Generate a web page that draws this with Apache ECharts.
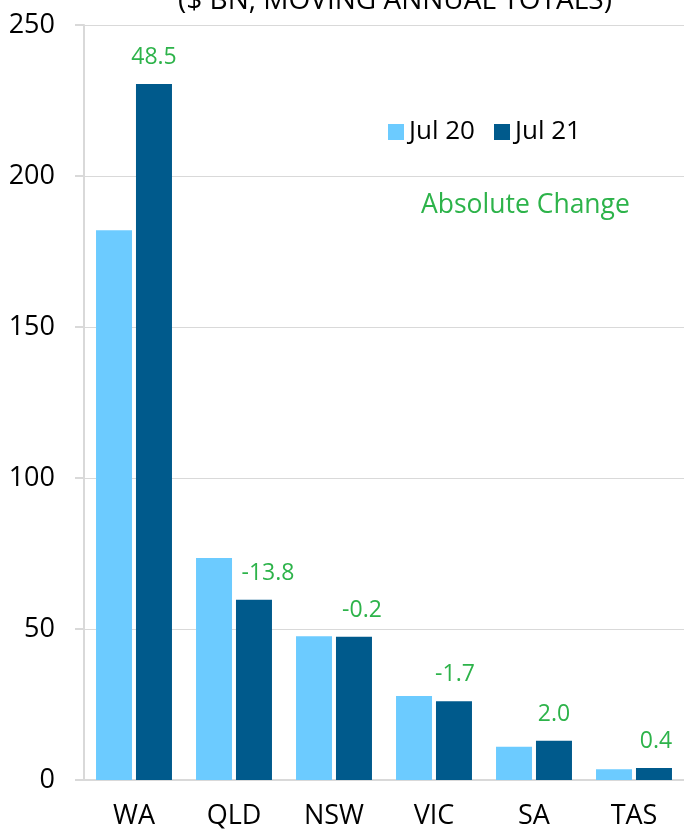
<!DOCTYPE html>
<html>
<head>
<meta charset="utf-8">
<script src="https://cdn.jsdelivr.net/npm/echarts@6/dist/echarts.min.js"></script>
<style>
html,body{margin:0;padding:0;background:#fff;}
#chart{width:684px;height:830px;}
</style>
</head>
<body>
<div id="chart"></div>
<script>
const categories = ['WA', 'QLD', 'NSW', 'VIC', 'SA', 'TAS'];
const jul20 = [182.0, 73.5, 47.6, 27.8, 11.0, 3.6];
const jul21 = [230.5, 59.7, 47.4, 26.1, 13.0, 4.0];
const changes = ['48.5', '-13.8', '-0.2', '-1.7', '2.0', '0.4'];
const yTicks = [0, 50, 100, 150, 200, 250];
const labelOffsets = [[0, 0], [14, 0], [8, 0], [1, 0], [0, 0], [2, 0]];

const FONT = '"Open Sans", sans-serif';
const GREEN = '#2db34a';

const chart = echarts.init(document.getElementById('chart'));
chart.setOption({
  animation: false,
  backgroundColor: '#fff',
  title: [
    {
      text: '($ BN, MOVING ANNUAL TOTALS)',
      left: 390, top: -18, textAlign: 'center',
      textStyle: {fontFamily: FONT, fontSize: 28, fontWeight: 'normal', color: '#000'}
    },
    {
      text: 'Absolute Change',
      left: 416, top: 187,
      textStyle: {fontFamily: FONT, fontSize: 26.5, fontWeight: 'normal', color: GREEN}
    }
  ],
  legend: {
    data: ['Jul 20', 'Jul 21'],
    left: 383, top: 114,
    icon: 'rect', itemWidth: 16, itemHeight: 16, itemGap: 19,
    textStyle: {fontFamily: FONT, fontSize: 26, color: '#000', padding: [0, 0, 0, 0]}
  },
  grid: {left: 84, right: -6, top: 25, bottom: 49, containLabel: false},
  xAxis: {
    type: 'category',
    data: categories,
    axisLine: {show: true, lineStyle: {color: '#d9d9d9', width: 2}},
    axisTick: {show: false},
    axisLabel: {fontFamily: FONT, fontSize: 27, color: '#000', margin: 23}
  },
  yAxis: {
    type: 'value',
    min: 0, max: 250, interval: 50,
    axisLine: {show: true, lineStyle: {color: '#d9d9d9', width: 2}},
    axisTick: {show: true, length: 9, inside: false, lineStyle: {color: '#d9d9d9', width: 2}},
    splitLine: {show: true, lineStyle: {color: '#d9d9d9', width: 1}},
    axisLabel: {
      fontFamily: FONT, fontSize: 27, color: '#000', margin: 29,
      formatter: v => yTicks.includes(v) ? String(v) : ''
    }
  },
  series: [
    {
      name: 'Jul 20', type: 'bar', data: jul20,
      barWidth: 36, barGap: '11%',
      itemStyle: {color: '#6ccbff'}
    },
    {
      name: 'Jul 21', type: 'bar',
      data: jul21.map((v, i) => ({
        value: v,
        label: {offset: labelOffsets[i]}
      })),
      barWidth: 36,
      itemStyle: {color: '#005a8c'},
      label: {
        show: true, position: 'top', distance: 15,
        fontFamily: FONT, fontSize: 23, color: GREEN,
        formatter: p => changes[p.dataIndex]
      }
    }
  ]
});
</script>
</body>
</html>
